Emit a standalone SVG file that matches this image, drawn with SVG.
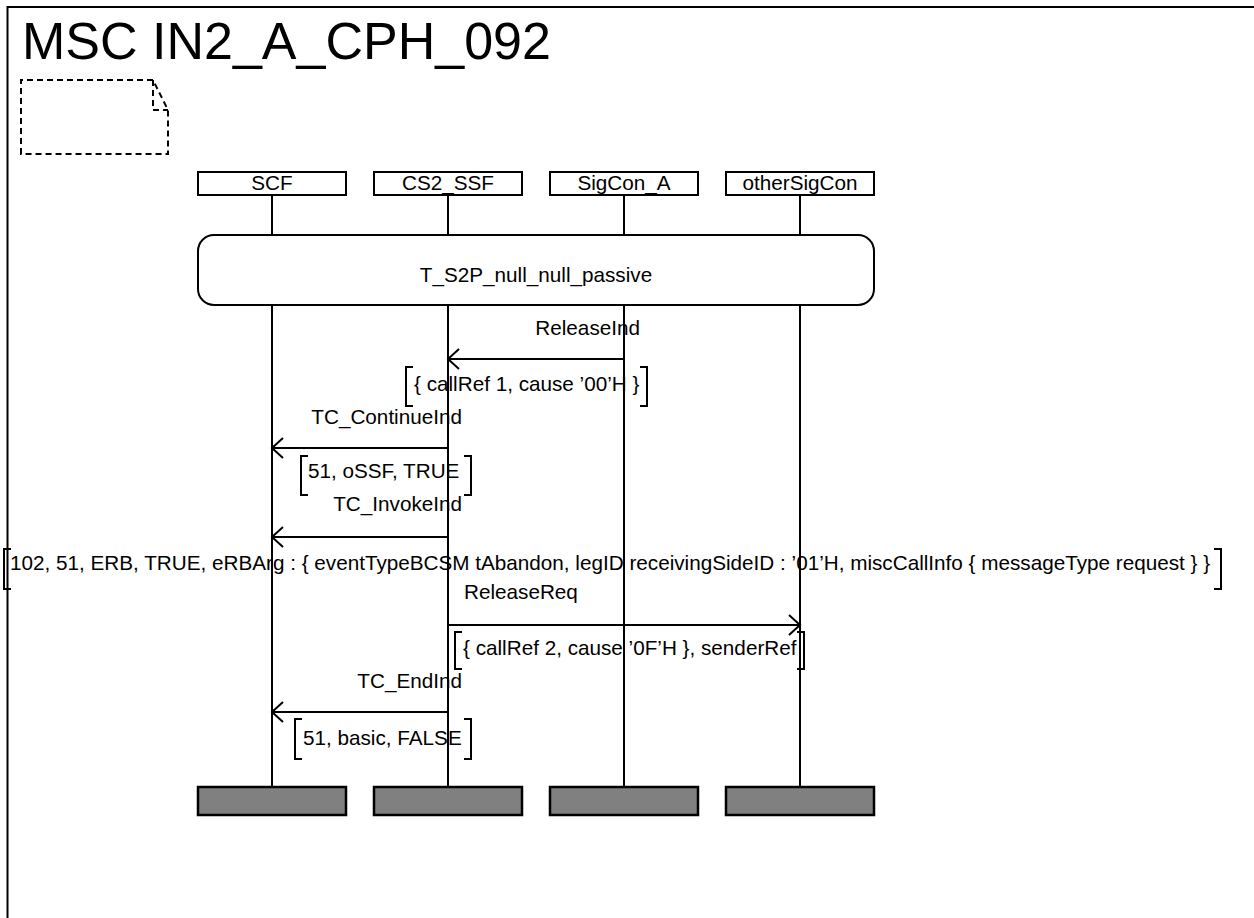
<svg xmlns="http://www.w3.org/2000/svg" width="1254" height="918" viewBox="0 0 1254 918">
<style>
text{font-family:"Liberation Sans",Arial,sans-serif;fill:#000}
.t{font-size:20.7px}
.c{text-anchor:middle}
.e{text-anchor:end}
.ln{stroke:#000;stroke-width:2;fill:none}
.box{fill:#fff;stroke:#000;stroke-width:2}
.end{fill:#808080;stroke:#000;stroke-width:2.5}
.dash{fill:none;stroke:#000;stroke-width:2;stroke-dasharray:6,4}
</style>
<defs>
<marker id="arr" markerUnits="userSpaceOnUse" markerWidth="30" markerHeight="30" refX="0" refY="0" orient="auto" overflow="visible">
<path d="M-11,-10 L0,0 L-11,10" fill="none" stroke="#000" stroke-width="2"/>
</marker>
</defs>
<rect width="1254" height="918" fill="#fff"/>
<g id="frame">
<path class="ln" d="M7.5,930 V7 H1260"/>
<text x="22" y="59" style="font-size:52px">MSC IN2_A_CPH_092</text>
<path class="dash" d="M21,154 V80 H153 L168,110 V154 Z"/>
<path class="dash" d="M153,80 V110 H168"/>
</g>
<g id="lifelines">
<path class="ln" d="M272,195 V235 M448,195 V235 M624,195 V235 M800,195 V235"/>
<path class="ln" d="M272,305 V787 M448,305 V787 M624,305 V787 M800,305 V787"/>
</g>
<g id="SCF"><rect class="box" x="198" y="172" width="148" height="23"/><text class="t c" x="272" y="190">SCF</text><rect class="end" x="198" y="787" width="148" height="28"/></g>
<g id="CS2_SSF"><rect class="box" x="374" y="172" width="148" height="23"/><text class="t c" x="448" y="190">CS2_SSF</text><rect class="end" x="374" y="787" width="148" height="28"/></g>
<g id="SigCon_A"><rect class="box" x="550" y="172" width="148" height="23"/><text class="t c" x="624" y="190">SigCon_A</text><rect class="end" x="550" y="787" width="148" height="28"/></g>
<g id="otherSigCon"><rect class="box" x="726" y="172" width="148" height="23"/><text class="t c" x="800" y="190">otherSigCon</text><rect class="end" x="726" y="787" width="148" height="28"/></g>
<g id="ref_T_S2P">
<rect class="box" x="198" y="235" width="676" height="70" rx="16" ry="16"/>
<text class="t c" x="536" y="282">T_S2P_null_null_passive</text>
</g>
<g id="connectors">
<line class="ln" x1="624" y1="359" x2="448" y2="359" marker-end="url(#arr)"/>
<line class="ln" x1="448" y1="448" x2="272" y2="448" marker-end="url(#arr)"/>
<line class="ln" x1="448" y1="537" x2="272" y2="537" marker-end="url(#arr)"/>
<line class="ln" x1="448" y1="625" x2="800" y2="625" marker-end="url(#arr)"/>
<line class="ln" x1="448" y1="712" x2="272" y2="712" marker-end="url(#arr)"/>
</g>
<g id="labels">
<text class="t e" x="640" y="335">ReleaseInd</text>
<path class="ln" d="M413,367 H406 V406 H413 M640,367 H647 V406 H640"/>
<text class="t" x="414" y="391">{ callRef 1, cause ’00’H }</text>
<text class="t e" x="462" y="424">TC_ContinueInd</text>
<path class="ln" d="M308,456 H301 V495 H308 M464,456 H471 V495 H464"/>
<text class="t" x="308" y="478">51, oSSF, TRUE</text>
<text class="t e" x="462" y="511">TC_InvokeInd</text>
<path class="ln" d="M11,549 H4 V589 H11 M1214,549 H1221 V589 H1214"/>
<text class="t" x="10" y="570">102, 51, ERB, TRUE, eRBArg : { eventTypeBCSM tAbandon, legID receivingSideID : ’01’H, miscCallInfo { messageType request } }</text>
<text class="t" x="464" y="599">ReleaseReq</text>
<path class="ln" d="M462,632 H455 V669 H462 M797,632 H804 V669 H797"/>
<text class="t" x="463" y="655">{ callRef 2, cause ’0F’H }, senderRef</text>
<text class="t e" x="462" y="688">TC_EndInd</text>
<path class="ln" d="M302,719 H295 V759 H302 M464,719 H471 V759 H464"/>
<text class="t" x="303" y="745">51, basic, FALSE</text>
</g>
</svg>
